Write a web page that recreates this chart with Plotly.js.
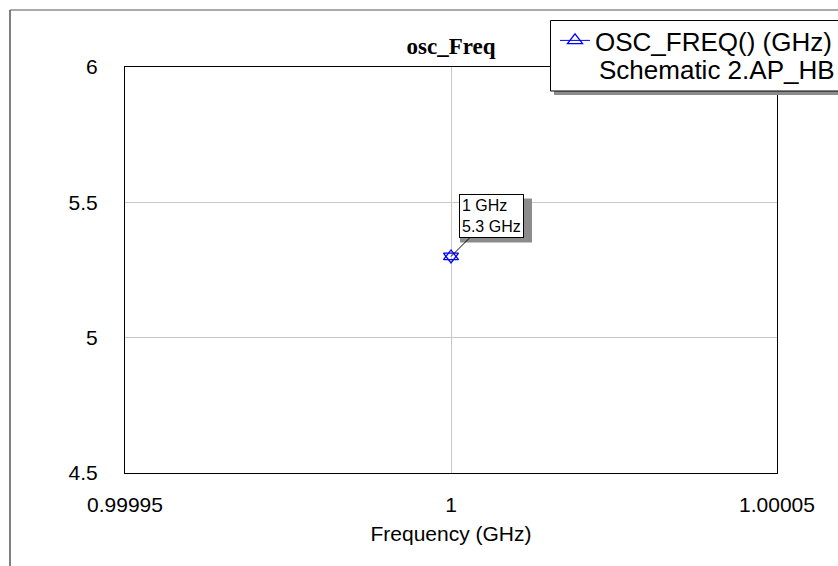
<!DOCTYPE html>
<html>
<head>
<meta charset="utf-8">
<script src="https://cdn.plot.ly/plotly-3.0.1.min.js"></script>
<style>html,body{margin:0;padding:0;background:#fff;}#chart{width:838px;height:566px;}</style>
</head>
<body>
<div id="chart"></div>
<script>
// Data
const frequencyGHz = [1];
const oscFreqGHz = [5.3];
const seriesName = "OSC_FREQ() (GHz)";
const seriesSource = "Schematic 2.AP_HB";
const xTickVals = [0.99995, 1, 1.00005];
const xTickText = ["0.99995", "1", "1.00005"];
const yTickVals = [4.5, 5, 5.5, 6];
const yTickText = ["4.5", "5", "5.5", "6"];
const markerLabel = "1 GHz<br>5.3 GHz";

const blue = "#0000ff";
const traces = [
  {
    x: frequencyGHz, y: oscFreqGHz, type: "scatter", mode: "lines+markers",
    name: seriesName,
    line: {color: blue, width: 1},
    marker: {symbol: "triangle-up-open", size: 13, color: blue, line: {width: 1.3, color: blue}},
    showlegend: true, hoverinfo: "skip"
  },
  {
    x: frequencyGHz, y: oscFreqGHz, type: "scatter", mode: "markers",
    marker: {symbol: "triangle-down-open", size: 13, color: blue, line: {width: 1.3, color: blue}},
    showlegend: false, hoverinfo: "skip"
  }
];

const W = 652, H = 406, L = 125, T = 67;
function px(x){ return (x - L) / W; }
function py(y){ return (T + H - y) / H; }

const layout = {
  width: 838, height: 566,
  margin: {l: 125, r: 61, t: 67, b: 93, pad: 0, autoexpand: false},
  paper_bgcolor: "#fff", plot_bgcolor: "#fff",
  font: {family: "Liberation Sans, Arial, sans-serif", size: 21, color: "#000"},
  title: {text: "<b>osc_Freq</b>", font: {family: "Liberation Serif, Times New Roman, serif", size: 23, color: "#000"},
          x: 0.5, xref: "paper", xanchor: "center", y: 1 - 46/566, yanchor: "middle"},
  xaxis: {
    range: [0.99995, 1.00005], tickvals: xTickVals, ticktext: xTickText,
    showgrid: true, gridcolor: "#c8c8c8", gridwidth: 1, zeroline: false,
    showline: true, linecolor: "#000", linewidth: 1, mirror: true,
    ticks: "", ticklabelstandoff: 13,
    tickfont: {size: 21},
    title: {text: "Frequency (GHz)", font: {size: 21}, standoff: 11}
  },
  yaxis: {
    range: [4.5, 6], tickvals: yTickVals, ticktext: yTickText,
    showgrid: true, gridcolor: "#c8c8c8", gridwidth: 1, zeroline: false,
    showline: true, linecolor: "#000", linewidth: 1, mirror: true,
    ticks: "", ticklabelstandoff: 22,
    tickfont: {size: 21}
  },
  showlegend: true,
  legend: {
    x: px(555), y: py(17), xanchor: "left", yanchor: "top",
    bgcolor: "rgba(0,0,0,0)", borderwidth: 0,
    font: {size: 26, color: "#000"},
    itemwidth: 30, tracegroupgap: 0
  },
  shapes: [
    // outer frame
    {type: "line", xref: "paper", yref: "paper", x0: px(10), x1: px(10), y0: py(10), y1: py(570), line: {color: "#808080", width: 2}},
    {type: "line", xref: "paper", yref: "paper", x0: px(10), x1: px(840), y0: py(10), y1: py(10), line: {color: "#555", width: 1}},
    // legend shadow + box
    {type: "rect", xref: "paper", yref: "paper", x0: px(554), x1: px(860), y0: py(24), y1: py(95), fillcolor: "#8c8c8c", line: {width: 0}, layer: "above"},
    {type: "rect", xref: "paper", yref: "paper", x0: px(550.5), x1: px(856), y0: py(20.5), y1: py(91), fillcolor: "#fff", line: {color: "#000", width: 1}, layer: "above"},
    // annotation shadow
    {type: "rect", xref: "x", yref: "y", xsizemode: "pixel", ysizemode: "pixel", xanchor: 1, yanchor: 5.3,
     x0: 9, x1: 81, y0: 14, y1: 58, fillcolor: "#8c8c8c", line: {width: 0}, layer: "above"}
  ],
  annotations: [
    {x: 1, y: 5.3, xref: "x", yref: "y", text: markerLabel, showarrow: true, arrowhead: 0, arrowwidth: 1, arrowcolor: "#000",
     ax: 40, ay: -40, axref: "pixel", ayref: "pixel", align: "left",
     font: {size: 16, color: "#000"}, bgcolor: "#fff", bordercolor: "#000", borderwidth: 1, borderpad: 2},
    {x: px(597), y: py(70), xref: "paper", yref: "paper", xanchor: "left", yanchor: "middle", showarrow: false,
     text: seriesSource, font: {size: 26, color: "#000"}}
  ]
};

Plotly.newPlot("chart", traces, layout, {displayModeBar: false, staticPlot: true});
</script>
</body>
</html>
